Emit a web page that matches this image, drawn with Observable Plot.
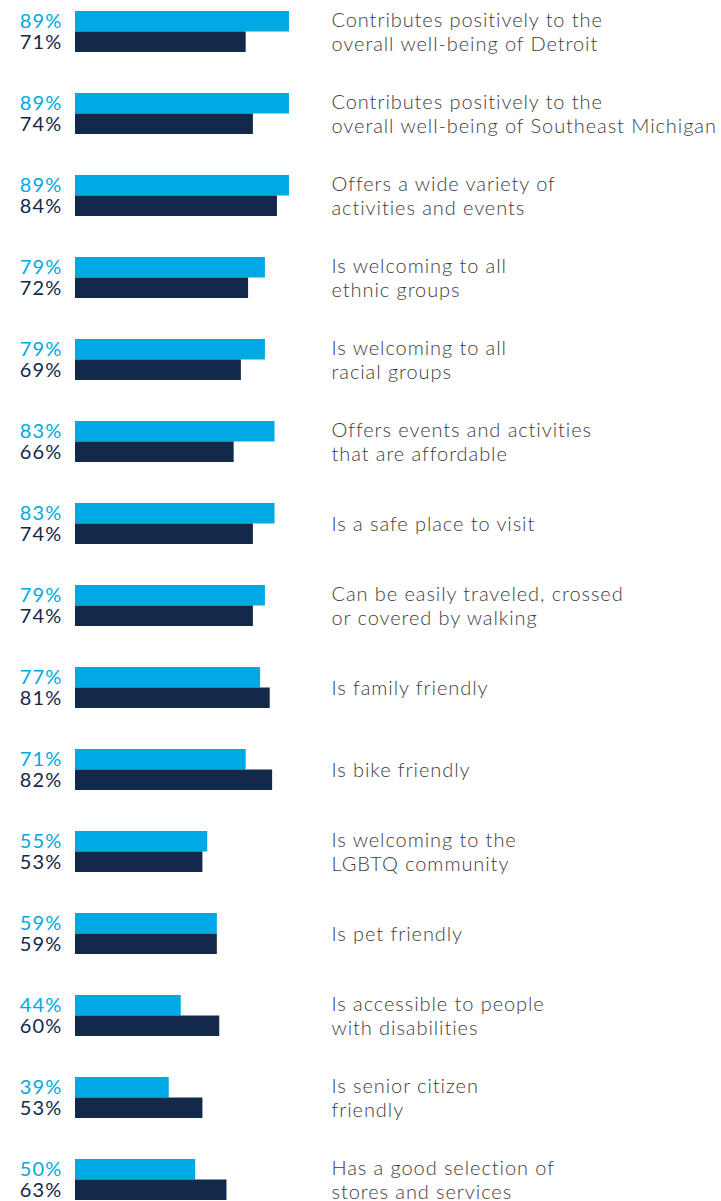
<!DOCTYPE html>
<html>
<head>
<meta charset="utf-8">
<script src="https://cdn.jsdelivr.net/npm/d3@7"></script>
<script src="https://cdn.jsdelivr.net/npm/@observablehq/plot@0.6"></script>
<style>
  html, body { margin: 0; padding: 0; background: #fff; }
  #chart svg { display: block; }
</style>
</head>
<body>
<div id="chart"></div>
<script>
const categories = [
  "Contributes positively to the\noverall well-being of Detroit",
  "Contributes positively to the\noverall well-being of Southeast Michigan",
  "Offers a wide variety of\nactivities and events",
  "Is welcoming to all\nethnic groups",
  "Is welcoming to all\nracial groups",
  "Offers events and activities\nthat are affordable",
  "Is a safe place to visit",
  "Can be easily traveled, crossed\nor covered by walking",
  "Is family friendly",
  "Is bike friendly",
  "Is welcoming to the\nLGBTQ community",
  "Is pet friendly",
  "Is accessible to people\nwith disabilities",
  "Is senior citizen\nfriendly",
  "Has a good selection of\nstores and services"
];
const lightValues = [89, 89, 89, 79, 79, 83, 83, 79, 77, 71, 55, 59, 44, 39, 50];
const darkValues  = [71, 74, 84, 72, 69, 66, 74, 74, 81, 82, 53, 59, 60, 53, 63];

const lightColor = "#00a9e3";
const darkColor = "#13294b";

const light = categories.map((c, i) => ({cat: c, v: lightValues[i]}));
const dark = categories.map((c, i) => ({cat: c, v: darkValues[i]}));

const font = "Lato, 'Open Sans', sans-serif";

const chart = Plot.plot({
  width: 721,
  height: 1201,
  margin: 0,
  style: {fontFamily: font, background: "#fff"},
  x: {domain: [0, 100], range: [75, 315.4], axis: null},
  y: {domain: categories, range: [11, 1200], paddingInner: 0.5, paddingOuter: 0, axis: null},
  marks: [
    Plot.barX(light, {x: "v", y: "cat", fill: lightColor, insetBottom: 20.5}),
    Plot.barX(dark, {x: "v", y: "cat", fill: darkColor, insetTop: 20.5}),
    Plot.text(light, {x: 0, y: "cat", text: d => d.v + "%", dx: -13, dy: -10.5, textAnchor: "end", fill: lightColor, fontSize: 20, fontWeight: 400}),
    Plot.text(dark, {x: 0, y: "cat", text: d => d.v + "%", dx: -13, dy: 10.5, textAnchor: "end", fill: darkColor, fontSize: 20, fontWeight: 400}),
    Plot.text(categories, {x: 100, y: d => d, text: d => d, dx: 15.6, dy: -0.5, textAnchor: "start", lineAnchor: "middle", lineHeight: 1.2, fill: "#3d3d3d", fontSize: 20, fontWeight: 300})
  ]
});
const textGroups = chart.querySelectorAll('g[aria-label="text"]');
textGroups.forEach((g, i) => {
  if (i < 2) { g.setAttribute("letter-spacing", "1.2px"); }
  else { g.setAttribute("letter-spacing", "0.92px"); }
});
document.getElementById("chart").appendChild(chart);
</script>
</body>
</html>
